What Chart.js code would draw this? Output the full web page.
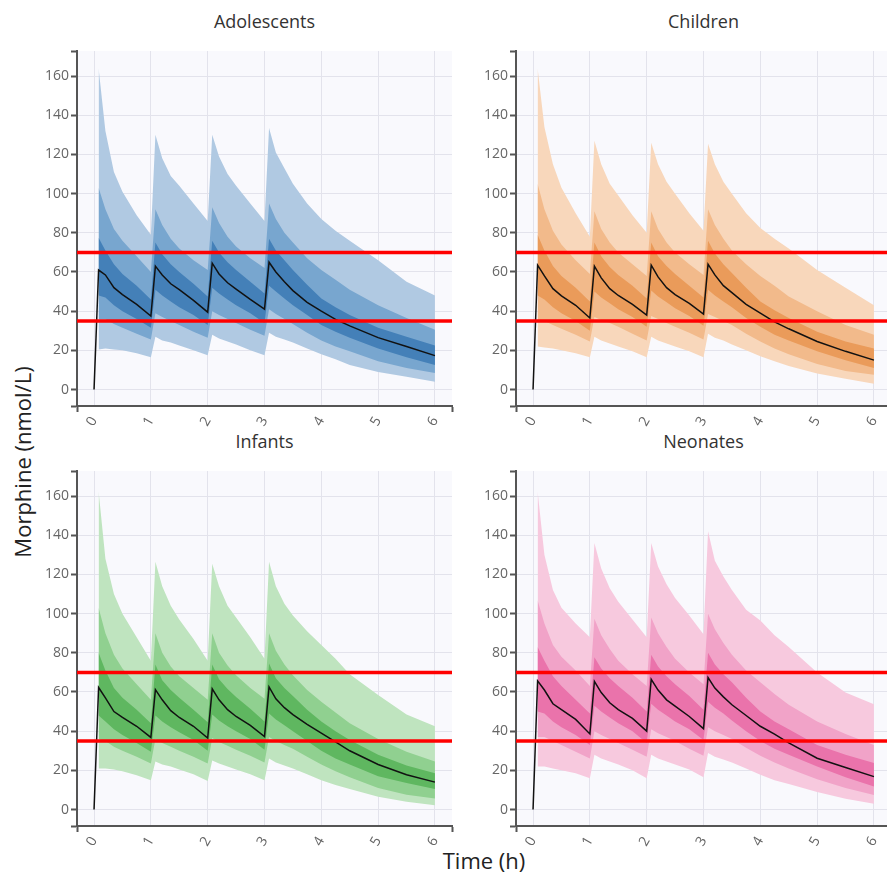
<!DOCTYPE html>
<html><head><meta charset="utf-8">
<script src="https://cdn.jsdelivr.net/npm/chart.js@4.4.1/dist/chart.umd.min.js"></script>
<style>
html,body{margin:0;padding:0;background:#fff;overflow:hidden;width:887px;height:873px;}
#wrap{position:relative;width:887px;height:873px;overflow:hidden;font-family:'Open Sans',sans-serif;}
canvas{position:absolute;}
.ptitle{position:absolute;width:375px;text-align:center;font-size:18px;line-height:24px;color:#333;white-space:nowrap;}
#ytitle{position:absolute;left:22px;top:462px;transform:translate(-50%,-50%) rotate(-90deg);font-size:22px;line-height:28px;color:#222;white-space:nowrap;}
#xtitle{position:absolute;left:484px;top:845px;transform:translateX(-50%);font-size:22px;line-height:30px;color:#222;white-space:nowrap;}
</style></head><body>
<div id="wrap">
<div class="ptitle" style="left:77px;top:9px">Adolescents</div>
<div class="ptitle" style="left:516px;top:9px">Children</div>
<div class="ptitle" style="left:77px;top:429px">Infants</div>
<div class="ptitle" style="left:516px;top:429px">Neonates</div>
<div id="ytitle">Morphine (nmol/L)</div>
<div id="xtitle">Time (h)</div>
<canvas id="c0" width="440" height="405"></canvas>
<canvas id="c1" width="440" height="405"></canvas>
<canvas id="c2" width="440" height="405"></canvas>
<canvas id="c3" width="440" height="405"></canvas>
</div>
<script>
// ---- data ----
const groups = ['Adolescents', 'Children', 'Infants', 'Neonates'];
const medianTimes = [0, 0.08, 0.2, 0.35, 0.5, 0.75, 1.0, 1.08, 1.2, 1.35, 1.5, 1.75, 2.0, 2.08, 2.2, 2.35, 2.5, 2.75, 3.0, 3.08, 3.2, 3.35, 3.5, 3.75, 4.0, 4.25, 4.5, 5.0, 5.5, 6.0];
const bandTimes = [0.08, 0.2, 0.35, 0.5, 0.75, 1.0, 1.08, 1.2, 1.35, 1.5, 1.75, 2.0, 2.08, 2.2, 2.35, 2.5, 2.75, 3.0, 3.08, 3.2, 3.35, 3.5, 3.75, 4.0, 4.25, 4.5, 5.0, 5.5, 6.0];
const thresholds = [70, 35];
const xTicks = [0, 1, 2, 3, 4, 5, 6];
const yTicks = [0, 20, 40, 60, 80, 100, 120, 140, 160];

// Adolescents
const medA = [0, 61, 58.5, 52, 48.5, 43.5, 37.5, 63, 58.5, 54, 51, 45.5, 39.5, 64.5, 59, 54.5, 51.3, 46, 41, 65, 60, 55, 50.5, 44.5, 40, 35.8, 32.5, 26.5, 22, 17.3];
const outerHiA = [164, 132, 111, 101, 89, 79, 130, 118, 109, 104, 95, 86, 130, 119, 110, 104, 95, 86, 133.5, 121, 113, 105, 95, 87, 81, 76, 66, 55, 48];
const outerLoA = [20.5, 21, 20.5, 20, 18.5, 16.5, 27, 25, 24, 22.5, 20, 17.5, 28, 26, 24.5, 23, 20, 17.5, 29, 27, 25.5, 24, 21, 18, 15.5, 12.5, 9, 6.5, 4];
const midHiA = [103, 92, 82, 76, 68, 60, 92, 84, 77, 72, 66, 61, 93, 85, 78, 73, 67, 62, 95, 87, 80, 75, 67, 61, 56, 51, 43, 36.5, 30.5];
const midLoA = [36, 36, 33.5, 31.5, 28.5, 25.5, 39, 37, 35, 33, 29.5, 26.5, 40, 38, 36, 34, 30.5, 27.5, 41, 38.5, 36, 33.5, 29, 25, 22, 19.5, 14.5, 11, 8.5];
const innerHiA = [77.5, 71, 64, 59, 53, 46, 75, 69, 64, 60, 54, 47.5, 76, 70, 65, 61, 55, 49, 77, 71, 66, 61, 53.5, 46.5, 42, 38, 31.5, 27, 22.5];
const innerLoA = [48, 47, 43, 40, 36, 31.5, 51, 48, 45, 42, 38, 33, 52, 49, 46, 43, 39, 34, 53, 50, 46.5, 43, 38, 33, 29.5, 26.5, 21, 16.5, 12.5];

// Children
const medC = [0, 63.5, 58, 51.5, 47.8, 43, 36.5, 63, 57, 51.5, 48, 43.5, 38, 63.5, 57.5, 52, 48.5, 44, 38.5, 64, 58.5, 53, 49.5, 43.5, 39, 34.5, 31, 24.5, 19.5, 15];
const outerHiC = [164, 134, 115, 103, 90, 78, 127, 115, 105, 99, 89, 80, 126, 115, 106, 100, 90, 81, 125.5, 115, 106, 100, 90, 82.5, 77, 72, 61, 52, 43];
const outerLoC = [22, 21.5, 21, 20, 18.5, 16.5, 27, 25, 23.5, 22, 19.5, 16.5, 27, 25, 23.5, 22, 19.5, 16.5, 28.5, 26.5, 25, 23, 20, 17, 14.5, 12, 8.2, 5.5, 3];
const midHiC = [105, 92, 81, 74, 66, 59, 91, 82, 75, 70, 64, 58, 91, 82, 75, 70, 64, 58.5, 92, 84, 77, 71, 64, 58, 53, 47.5, 40, 33, 28];
const midLoC = [35, 35, 33, 31, 28, 24.5, 37, 35.5, 34, 32, 28.5, 25, 37.5, 36, 34, 32, 29, 25.5, 38.5, 37, 35, 33, 28.5, 24.5, 21, 18, 13, 9.5, 7.5];
const innerHiC = [79, 71, 63, 58, 52, 45, 75, 68, 62.5, 58.5, 53, 46.5, 75, 68, 63, 59, 53, 47, 76, 69.5, 64, 59.5, 52, 45, 40.5, 36.5, 29.5, 24.5, 21];
const innerLoC = [48, 46, 42, 39, 35, 30, 50, 47, 44, 41, 37, 32, 50.5, 47.5, 44.5, 41.5, 37.5, 32.5, 51, 48, 45, 42, 36.5, 32, 28, 25, 19.5, 15, 11];

// Infants
const medI = [0, 62.3, 57, 50, 47, 42.5, 36.8, 61.2, 56, 50.5, 47, 42.5, 36.5, 61.6, 56, 51, 47.5, 43, 37.2, 62.6, 56.5, 52, 48.5, 43.5, 39, 34.5, 30, 23, 17.8, 14];
const outerHiI = [162.5, 128, 110, 100, 88, 76, 126.5, 114, 104, 97, 87, 76, 125.5, 114, 104, 98, 88, 77, 126.5, 114, 105, 99, 91, 84, 77, 69, 58.5, 48.5, 42.5];
const outerLoI = [21, 21, 20.5, 19.5, 17.5, 15, 24.5, 23, 22, 20.5, 18, 14.6, 25, 23.5, 22, 20.5, 18, 15, 26, 24, 22.5, 21, 18, 15, 12.5, 10.5, 6.5, 4, 2.2];
const midHiI = [103, 90, 79, 72, 64, 56, 90, 80, 73, 68, 62, 56, 90, 80, 73.5, 68.5, 62, 56.5, 90, 81, 74, 68.5, 61, 55, 49.5, 44, 36, 29.5, 24.5];
const midLoI = [36, 35, 32, 30, 27, 23.5, 36, 34, 32, 30, 27, 23.5, 36.5, 34.5, 32.5, 30.5, 27.5, 24, 37, 35, 33, 31, 27, 23, 19.5, 16.5, 11, 7.5, 5.7];
const innerHiI = [80, 71, 62, 57, 51, 44, 74, 66, 61, 57, 51, 44.5, 74, 66.5, 61.5, 57.5, 51.5, 45, 74.5, 67, 62, 58, 51, 45, 40, 35.5, 28, 22.5, 18.5];
const innerLoI = [48, 45, 41, 38, 34, 29.5, 48, 45, 42, 39.5, 35.5, 30, 48.5, 45.5, 42.5, 40, 36, 30.5, 49, 46, 43, 40, 35, 30, 26, 23, 17, 13.5, 10.5];

// Neonates
const medN = [0, 65.7, 61, 54, 51, 46, 38.6, 65.4, 59.7, 54.5, 51, 46.5, 40, 66.5, 61, 56, 52.8, 47.5, 41.3, 67.4, 62, 57.5, 53.5, 48, 42.5, 38.5, 34, 26.2, 21.5, 16.8];
const outerHiN = [162.5, 130, 112, 103, 95, 88, 136, 123, 113, 106, 97, 88, 136, 124, 115, 108, 99, 89.5, 142, 127, 119, 112, 102, 96.5, 89, 83, 70, 59.7, 53.7];
const outerLoN = [22, 22, 21, 20, 18.5, 16, 28, 26, 24.5, 23, 20, 16, 28, 26, 24.5, 23, 20.5, 16.5, 28.8, 27, 25.5, 24, 21, 17.7, 15, 13, 9, 5.5, 3];
const midHiN = [106.8, 95, 84, 78, 71, 63, 97.4, 89, 82, 76, 69, 63, 98, 90, 83, 77, 70, 64, 100, 92, 85, 79, 71, 65, 59, 53.5, 45, 38.5, 33];
const midLoN = [37, 37, 35, 33, 29.5, 26, 40, 38, 36, 34, 30.5, 27, 41, 39, 37, 35, 31, 27.5, 42, 40, 38, 36, 31.5, 27.5, 24, 21, 15.5, 11, 7.4];
const innerHiN = [83, 76, 68, 63, 56, 49, 77.7, 72, 67, 63, 57, 50, 79, 73, 68, 64, 58, 51, 80, 74, 69, 65, 57, 50, 45, 41, 33, 28, 23.7];
const innerLoN = [50, 49, 45, 42, 38, 33, 53, 50, 47, 44, 40, 34, 54, 51, 48, 45, 41, 35.5, 55, 52, 49, 45.5, 40, 35, 31, 28, 22, 16.5, 11.7];

// ---- styling ----
const FONT = "'Open Sans', sans-serif";
const xMin = -0.3, xMax = 6.3, yMin = -8.4, yMax = 172.8;
const plotBg = '#f9f9fd';
const gridColor = '#e3e3ec';
const axisColor = '#555555';
const palettes = [
  {outer: '#b0c9e2', mid: '#78a6cf', inner: '#4480b8'},
  {outer: '#f8d7bb', mid: '#f2ba8b', inner: '#ea9b5a'},
  {outer: '#bfe4bf', mid: '#90d090', inner: '#5fb760'},
  {outer: '#f7c9de', mid: '#f1a3c8', inner: '#ea73ab'}
];
const panels = [
  {L: 77, T: 51, med: medA, oHi: outerHiA, oLo: outerLoA, mHi: midHiA, mLo: midLoA, iHi: innerHiA, iLo: innerLoA},
  {L: 516, T: 51, med: medC, oHi: outerHiC, oLo: outerLoC, mHi: midHiC, mLo: midLoC, iHi: innerHiC, iLo: innerLoC},
  {L: 77, T: 471, med: medI, oHi: outerHiI, oLo: outerLoI, mHi: midHiI, mLo: midLoI, iHi: innerHiI, iLo: innerLoI},
  {L: 516, T: 471, med: medN, oHi: outerHiN, oLo: outerLoN, mHi: midHiN, mLo: midLoN, iHi: innerHiN, iLo: innerLoN}
];

const bgPlugin = {
  id: 'plotBg',
  beforeDraw(chart) {
    const {ctx, chartArea: a} = chart;
    ctx.save();
    ctx.fillStyle = plotBg;
    ctx.fillRect(a.left, a.top, a.right - a.left, a.bottom - a.top);
    ctx.restore();
  }
};

const pts = (xs, ys) => ys.map((y, i) => ({x: xs[i], y: y}));
const band = (label, xs, ys, color, fill, order) => ({
  label, data: pts(xs, ys), borderWidth: 0, borderColor: 'rgba(0,0,0,0)',
  backgroundColor: color, fill: fill, order: order, pointRadius: 0, tension: 0
});

panels.forEach((p, k) => {
  const cv = document.getElementById('c' + k);
  cv.style.left = (p.L - 60) + 'px';
  cv.style.top = (p.T - 10) + 'px';
  const col = palettes[k];
  const datasets = [];
  thresholds.forEach(t => datasets.push({
    label: 'threshold ' + t, data: [{x: xMin, y: t}, {x: xMax, y: t}],
    borderColor: '#ff0000', borderWidth: 3.5, pointRadius: 0, fill: false, order: 0
  }));
  datasets.push({label: groups[k] + ' median', data: pts(medianTimes, p.med), borderColor: '#111111',
    borderWidth: 1.5, pointRadius: 0, fill: false, order: 1, tension: 0});
  datasets.push(band('inner hi', bandTimes, p.iHi, col.inner, '+1', 2));
  datasets.push(band('inner lo', bandTimes, p.iLo, col.inner, false, 2));
  datasets.push(band('mid hi', bandTimes, p.mHi, col.mid, '+1', 3));
  datasets.push(band('mid lo', bandTimes, p.mLo, col.mid, false, 3));
  datasets.push(band('outer hi', bandTimes, p.oHi, col.outer, '+1', 4));
  datasets.push(band('outer lo', bandTimes, p.oLo, col.outer, false, 4));

  new Chart(cv, {
    type: 'line',
    data: {datasets},
    plugins: [bgPlugin],
    options: {
      responsive: false, animation: false,
      layout: {padding: {left: 0, top: 10, right: 5, bottom: 0}},
      plugins: {legend: {display: false}, tooltip: {enabled: false}, title: {display: false}},
      scales: {
        x: {
          type: 'linear', min: xMin, max: xMax,
          afterBuildTicks: s => { s.ticks = [xMin].concat(xTicks, [xMax]).map(v => ({value: v})); },
          afterFit: s => { s.height = 40; s.paddingLeft = 0; s.paddingRight = 0; },
          ticks: {autoSkip: false, minRotation: 60, maxRotation: 60, padding: 2, color: '#666',
            font: {family: FONT, size: 14},
            callback: v => xTicks.includes(v) ? String(v) : ''},
          grid: {
            color: c => (c.tick && xTicks.includes(c.tick.value)) ? gridColor : 'rgba(0,0,0,0)',
            tickColor: c => (c.tick && xTicks.includes(c.tick.value)) ? 'rgba(0,0,0,0)' : axisColor,
            tickLength: 6, lineWidth: 1, tickWidth: 2
          },
          border: {color: axisColor, width: 2}
        },
        y: {
          type: 'linear', min: yMin, max: yMax,
          afterBuildTicks: s => { s.ticks = [yMin].concat(yTicks, [yMax]).map(v => ({value: v})); },
          afterFit: s => { s.width = 60; s.paddingTop = 0; s.paddingBottom = 0; },
          ticks: {autoSkip: false, padding: 2, color: '#666', font: {family: FONT, size: 14},
            callback: v => yTicks.includes(v) ? String(v) : ''},
          grid: {
            color: c => (c.tick && yTicks.includes(c.tick.value)) ? gridColor : 'rgba(0,0,0,0)',
            tickColor: axisColor, tickLength: 6, lineWidth: 1, tickWidth: 2
          },
          border: {color: axisColor, width: 2}
        }
      }
    }
  });
});
</script>
</body></html>
